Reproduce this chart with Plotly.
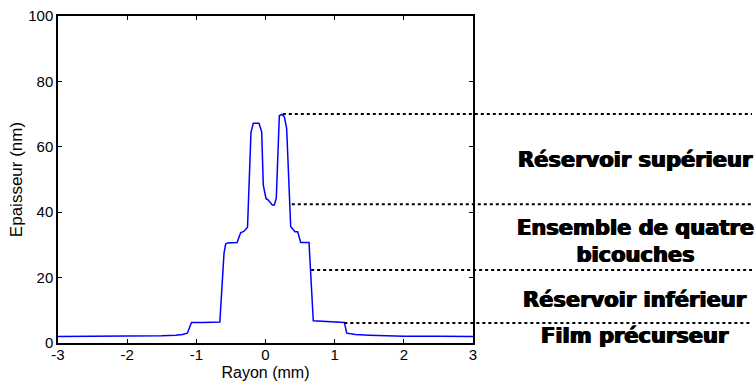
import plotly.graph_objects as go

# Thickness profile (Rayon in mm, Epaisseur in nm)
rayon = [-3.0, -2.5, -2.0, -1.5, -1.3, -1.2, -1.13, -1.07, -0.9, -0.66,
         -0.6, -0.576, -0.55, -0.41, -0.36, -0.31, -0.26, -0.21, -0.176, -0.094,
         -0.055, -0.032, 0.007, 0.04, 0.098, 0.127, 0.156, 0.2, 0.234, 0.272,
         0.306, 0.364, 0.426, 0.465, 0.509, 0.629, 0.691, 0.9, 1.14, 1.174,
         1.3, 1.5, 2.0, 2.5, 3.0]
epaisseur = [2.0, 2.0, 2.05, 2.2, 2.4, 2.6, 3.0, 6.3, 6.3, 6.4,
             27.4, 30.3, 30.6, 30.7, 33.7, 34.2, 35.4, 64.4, 67.2, 67.2,
             64.6, 48.3, 44.2, 43.7, 42.2, 42.2, 44.2, 69.5, 69.9, 69.2,
             65.6, 35.6, 34.0, 34.0, 30.7, 30.7, 6.8, 6.5, 6.3, 3.0,
             2.6, 2.4, 2.1, 2.05, 2.0]

# Dotted separator levels (nm) and their start positions on the curve (mm)
niveaux = [70.0, 42.4, 22.3, 6.1]
debuts = [0.25, 0.38, 0.66, 1.14]

# Region labels and their vertical centres (nm)
etiquettes = ["Réservoir supérieur", "Ensemble de quatre<br>bicouches",
              "Réservoir inférieur", "Film précurseur"]
positions = [56.0, 31.1, 13.1, 2.1]

x_ticks = [-3, -2, -1, 0, 1, 2, 3]
y_ticks = [0, 20, 40, 60, 80, 100]

fig = go.Figure()
fig.add_trace(go.Scatter(x=rayon, y=epaisseur, mode="lines",
                         line=dict(color="#0000ff", width=1.5),
                         showlegend=False, hoverinfo="skip"))

x_min, x_max = -3, 3
x_right_paper = (752 - 58) / 415.0
for lvl, x0 in zip(niveaux, debuts):
    fig.add_shape(type="line", xref="paper", yref="y",
                  x0=(x0 - x_min) / (x_max - x_min), x1=x_right_paper,
                  y0=lvl, y1=lvl,
                  line=dict(color="black", width=2, dash="dot"))

for txt, yv in zip(etiquettes, positions):
    fig.add_annotation(text=txt, xref="paper", yref="y",
                       x=(635 - 58) / 415.0, y=yv, showarrow=False,
                       xanchor="center", yanchor="middle",
                       font=dict(family="DejaVu Sans", size=21, color="black", weight="bold",
                                 shadow="0.7px 0 0 black, -0.7px 0 0 black"))

axis_common = dict(showgrid=False, zeroline=False, showline=True, linecolor="black",
                   linewidth=1.5, mirror="ticks", ticks="inside", ticklen=4,
                   tickcolor="black", automargin=False,
                   tickfont=dict(family="Liberation Sans", size=15, color="black"))

fig.update_xaxes(range=[x_min, x_max], tickvals=x_ticks, ticktext=[str(v) for v in x_ticks],
                 ticklabelstandoff=-3,
                 title=dict(text="Rayon (mm)", standoff=5,
                            font=dict(family="Liberation Sans", size=16, color="black")),
                 **axis_common)
fig.update_yaxes(range=[0, 100], tickvals=y_ticks, ticktext=[str(v) for v in y_ticks],
                 title=dict(text="Epaisseur (nm)", standoff=1,
                            font=dict(family="Liberation Sans", size=17, color="black")),
                 **axis_common)

fig.update_layout(width=756, height=381, plot_bgcolor="white", paper_bgcolor="white",
                  margin=dict(l=58, r=283, t=16, b=38))

fig.write_html("out.html", config={"displayModeBar": False},
               post_script="document.body.style.margin='0';document.body.style.overflow='hidden';")
